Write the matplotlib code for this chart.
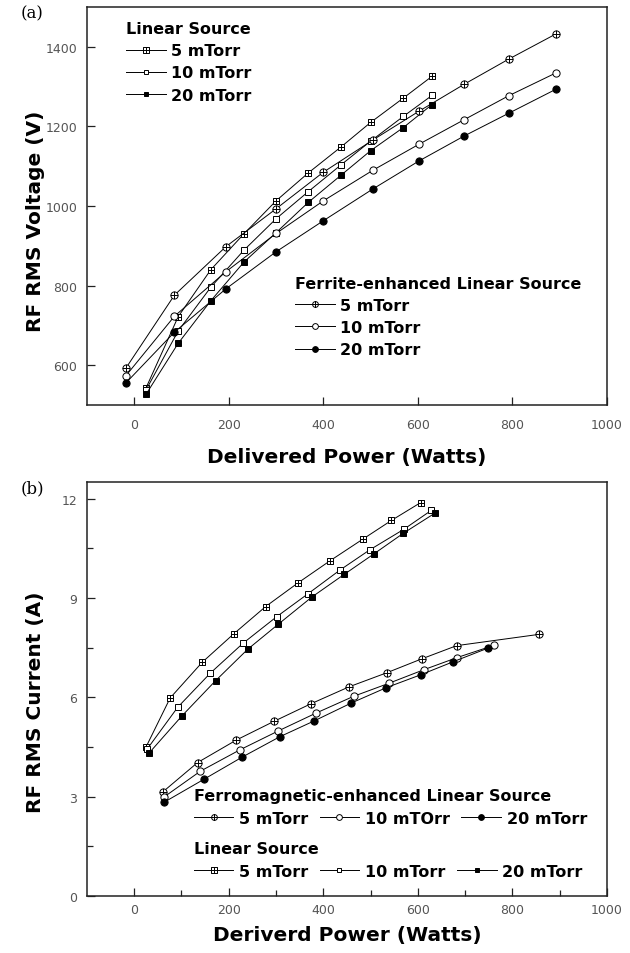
import matplotlib
matplotlib.use("Agg")
import matplotlib.pyplot as plt
from matplotlib.path import Path
from matplotlib.lines import Line2D

# ---------------- data: panel (a) ----------------
lin_power_a = [25, 93, 162, 232, 300, 368, 438, 500, 569, 630]
lin5_v = [543, 722, 840, 930, 1013, 1083, 1149, 1210, 1271, 1326]
lin10_v = [538, 686, 796, 889, 968, 1036, 1104, 1163, 1225, 1278]
lin20_v = [527, 655, 762, 859, 933, 1009, 1078, 1139, 1197, 1255]

fer_power_a = [-18, 85, 194, 300, 400, 505, 602, 698, 792, 893]
fer5_v = [592, 776, 898, 993, 1085, 1166, 1238, 1306, 1369, 1433]
fer10_v = [573, 723, 835, 931, 1013, 1090, 1155, 1217, 1277, 1335]
fer20_v = [555, 683, 792, 885, 963, 1043, 1113, 1176, 1233, 1294]

# ---------------- data: panel (b) ----------------
lin5_p_b = [25, 76, 144, 210, 278, 347, 415, 483, 544, 606]
lin5_i = [4.50, 5.98, 7.06, 7.91, 8.74, 9.46, 10.13, 10.77, 11.34, 11.88]
lin10_p_b = [27, 92, 161, 230, 301, 367, 435, 498, 570, 628]
lin10_i = [4.43, 5.70, 6.73, 7.63, 8.43, 9.12, 9.84, 10.45, 11.07, 11.64]
lin20_p_b = [31, 101, 172, 240, 305, 376, 444, 507, 569, 636]
lin20_i = [4.31, 5.44, 6.50, 7.45, 8.21, 9.03, 9.71, 10.33, 10.95, 11.56]

fer5_p_b = [61, 134, 216, 295, 373, 455, 534, 608, 682, 856]
fer5_i = [3.15, 4.03, 4.71, 5.27, 5.80, 6.32, 6.74, 7.16, 7.56, 7.90]
fer10_p_b = [62, 140, 223, 304, 384, 464, 538, 612, 683, 761]
fer10_i = [2.98, 3.77, 4.41, 4.98, 5.52, 6.03, 6.42, 6.83, 7.20, 7.57]
fer20_p_b = [63, 148, 229, 308, 381, 458, 533, 606, 674, 749]
fer20_i = [2.83, 3.53, 4.20, 4.81, 5.29, 5.82, 6.29, 6.68, 7.07, 7.49]

pressures = ["5 mTorr", "10 mTorr", "20 mTorr"]
pressures_b_fer = ["5 mTorr", "10 mTOrr", "20 mTorr"]

# ---------------- markers ----------------
M, L, C = Path.MOVETO, Path.LINETO, Path.CLOSEPOLY
sq_plus = Path([(-1, -1), (1, -1), (1, 1), (-1, 1), (-1, -1),
                (0, -1), (0, 1), (-1, 0), (1, 0)],
               [M, L, L, L, C, M, L, M, L])
cross = Path([(0, -1), (0, 1), (-1, 0), (1, 0)], [M, L, M, L])
circ_plus = Path.make_compound_path(Path.unit_circle(), cross)

sty = dict(color="black", lw=0.7, mec="black", mew=0.7)
lin_styles = [dict(marker=sq_plus, mfc="white", ms=4.6),
              dict(marker="s", mfc="white", ms=4.4),
              dict(marker="s", mfc="black", ms=4.4)]
fer_styles = [dict(marker=circ_plus, mfc="white", ms=5.2),
              dict(marker="o", mfc="white", ms=5.2),
              dict(marker="o", mfc="black", ms=5.2)]

fig = plt.figure(figsize=(6.3, 9.54), dpi=100)
ax1 = fig.add_axes([0.138, 0.5744, 0.8255, 0.4172])
ax2 = fig.add_axes([0.138, 0.0597, 0.8255, 0.4340])

label_font = dict(family="DejaVu Sans", weight="bold", size=14.5)
leg_prop = dict(family="DejaVu Sans", weight="bold", size=11.5)

# panel (a)
lin_a = [lin5_v, lin10_v, lin20_v]
fer_a = [fer5_v, fer10_v, fer20_v]
for y, st in zip(lin_a, lin_styles):
    ax1.plot(lin_power_a, y, zorder=2, **sty, **st)
for y, st in zip(fer_a, fer_styles):
    ax1.plot(fer_power_a, y, zorder=3, **sty, **st)

# panel (b)
lin_b = [(lin5_p_b, lin5_i), (lin10_p_b, lin10_i), (lin20_p_b, lin20_i)]
fer_b = [(fer5_p_b, fer5_i), (fer10_p_b, fer10_i), (fer20_p_b, fer20_i)]
for (x, y), st in zip(lin_b, lin_styles):
    ax2.plot(x, y, zorder=2, **sty, **st)
for (x, y), st in zip(fer_b, fer_styles):
    ax2.plot(x, y, zorder=3, **sty, **st)


def handles(styles):
    hs = []
    for st in styles:
        s = dict(st)
        s["ms"] = s["ms"] * 0.8
        hs.append(Line2D([], [], **sty, **s))
    return hs


common = dict(frameon=False, alignment="left", handlelength=2.5,
              handletextpad=0.35, borderpad=0, borderaxespad=0,
              prop=leg_prop, title_fontproperties=leg_prop)

lg1 = ax1.legend(handles(lin_styles), pressures, title="Linear Source",
                 loc="upper left", bbox_to_anchor=(0.075, 0.965),
                 labelspacing=0.45, **common)
ax1.add_artist(lg1)
ax1.legend(handles(fer_styles), pressures,
           title="Ferrite-enhanced Linear Source",
           loc="upper left", bbox_to_anchor=(0.40, 0.325),
           labelspacing=0.45, **common)

lg3 = ax2.legend(handles(fer_styles), pressures_b_fer,
                 title="Ferromagnetic-enhanced Linear Source",
                 loc="upper left", bbox_to_anchor=(0.205, 0.262), ncol=3,
                 columnspacing=0.7, **common)
ax2.add_artist(lg3)
ax2.legend(handles(lin_styles), pressures, title="Linear Source",
           loc="upper left", bbox_to_anchor=(0.205, 0.133), ncol=3,
           columnspacing=0.7, **common)

# axes formatting
ax1.set_xlim(-100, 1000)
ax1.set_ylim(500, 1500)
ax1.set_xticks([0, 200, 400, 600, 800, 1000])
ax1.set_yticks([600, 800, 1000, 1200, 1400])

ax2.set_xlim(-100, 1000)
ax2.set_ylim(0, 12.5)
ax2.set_xticks([0, 200, 400, 600, 800, 1000])
ax2.set_xticks([100, 300, 500, 700, 900], minor=True)
ax2.set_yticks([0, 3, 6, 9, 12])
ax2.set_yticks([1.5, 4.5, 7.5, 10.5], minor=True)

for ax in (ax1, ax2):
    for sp in ax.spines.values():
        sp.set_linewidth(1.1)
        sp.set_color("#222222")
    ax.tick_params(which="major", direction="in", length=6, width=0.9,
                   labelsize=9, labelcolor="#555555", color="#222222")
    ax.tick_params(which="minor", direction="in", length=4, width=0.9,
                   color="#222222")
    ax.tick_params(axis="y", pad=7)

ax1.tick_params(axis="x", pad=9)
ax2.tick_params(axis="x", pad=5)

ax1.set_xlabel("Delivered Power (Watts)", **label_font)
ax1.set_ylabel("RF RMS Voltage (V)", **label_font)
ax2.set_xlabel("Deriverd Power (Watts)", **label_font)
ax2.set_ylabel("RF RMS Current (A)", **label_font)
ax1.xaxis.set_label_coords(0.5, -0.105)
ax2.xaxis.set_label_coords(0.5, -0.07)
ax1.yaxis.set_label_coords(-0.08, 0.465)
ax2.yaxis.set_label_coords(-0.08, 0.47)

fig.text(0.032, 0.985, "(a)", family="DejaVu Serif", size=12, va="center")
fig.text(0.032, 0.488, "(b)", family="DejaVu Serif", size=12, va="center")

fig.savefig("out.png", dpi=100)
